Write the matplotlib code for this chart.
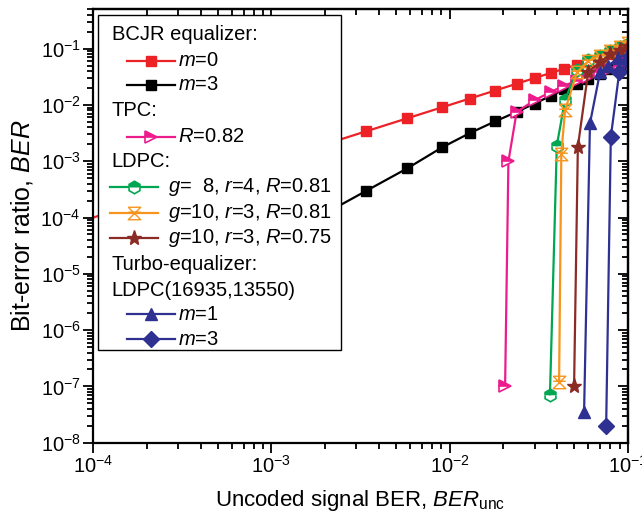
import numpy as np
import matplotlib
matplotlib.use('Agg')
import matplotlib.pyplot as plt
from matplotlib.path import Path
from matplotlib.lines import Line2D
from matplotlib.patches import Rectangle
from matplotlib.ticker import LogLocator, NullFormatter

plt.rcParams['font.family'] = ['Liberation Sans', 'DejaVu Sans']
plt.rcParams['mathtext.fontset'] = 'custom'
plt.rcParams['mathtext.rm'] = 'Liberation Sans'
plt.rcParams['mathtext.it'] = 'Liberation Sans:italic'
plt.rcParams['mathtext.bf'] = 'Liberation Sans:bold'
plt.rcParams['axes.unicode_minus'] = False

# BCJR equalizer, m=0
unc_bcjr0 = [1e-4, 2e-4, 5e-4, 1e-3, 2e-3, 3.4e-3, 5.8e-3, 9.1e-3, 0.013, 0.018,
             0.024, 0.030, 0.037, 0.044, 0.052, 0.060, 0.070, 0.080, 0.090, 0.100]
ber_bcjr0 = [1e-4, 2e-4, 5e-4, 1e-3, 2e-3, 3.4e-3, 5.8e-3, 9.1e-3, 0.013, 0.018,
             0.024, 0.030, 0.037, 0.044, 0.052, 0.060, 0.070, 0.080, 0.092, 0.105]
# BCJR equalizer, m=3
unc_bcjr3 = [4e-4, 1e-3, 2e-3, 3.4e-3, 5.8e-3, 9.1e-3, 0.013, 0.018, 0.024,
             0.030, 0.037, 0.044, 0.052, 0.060, 0.070, 0.080, 0.090, 0.100]
ber_bcjr3 = [7e-6, 3.5e-5, 1.18e-4, 2.97e-4, 7.5e-4, 1.77e-3, 3.16e-3, 5.1e-3, 7.6e-3,
             0.0106, 0.0145, 0.019, 0.024, 0.029, 0.036, 0.043, 0.050, 0.057]
# TPC, R=0.82
unc_tpc = [0.0205, 0.0214, 0.0238, 0.030, 0.037, 0.044, 0.052, 0.060, 0.070, 0.080, 0.090, 0.100]
ber_tpc = [1e-7, 1e-3, 7.5e-3, 0.0121, 0.0170, 0.022, 0.027, 0.032, 0.038, 0.044, 0.050, 0.056]
# LDPC codes
unc_ldpc_a = [0.0366, 0.040, 0.0445, 0.052, 0.060, 0.070, 0.080, 0.090, 0.100]
ber_ldpc_a = [7e-8, 1.9e-3, 0.0124, 0.041, 0.062, 0.075, 0.090, 0.105, 0.120]
unc_ldpc_b = [0.0412, 0.0424, 0.0445, 0.052, 0.060, 0.070, 0.080, 0.090, 0.100]
ber_ldpc_b = [1.2e-7, 1.37e-3, 8.0e-3, 0.0385, 0.060, 0.075, 0.090, 0.105, 0.125]
unc_ldpc_c = [0.050, 0.0525, 0.060, 0.070, 0.080, 0.090, 0.100]
ber_ldpc_c = [1e-7, 1.8e-3, 0.0385, 0.058, 0.080, 0.095, 0.110]
# turbo equalizer, LDPC(16935,13550)
unc_turbo1 = [0.0569, 0.0614, 0.070, 0.078, 0.088, 0.100]
ber_turbo1 = [3.5e-8, 4.7e-3, 0.0385, 0.050, 0.068, 0.080]
unc_turbo3 = [0.0757, 0.0804, 0.0897, 0.100]
ber_turbo3 = [2e-8, 2.7e-3, 0.0385, 0.058]

labels = {
    'bcjr0': '$m$=0',
    'bcjr3': '$m$=3',
    'tpc': '$R$=0.82',
    'ldpc_a': '$g$=  8, $r$=4, $R$=0.81',
    'ldpc_b': '$g$=10, $r$=3, $R$=0.81',
    'ldpc_c': '$g$=10, $r$=3, $R$=0.75',
    'turbo1': '$m$=1',
    'turbo3': '$m$=3',
}

# hourglass with a cross through it
hourglass = Path([(-1, 1), (1, 1), (-1, -1), (1, -1), (-1, 1),
                  (-1, 0.2), (1, 0.2)],
                 [Path.MOVETO, Path.LINETO, Path.LINETO, Path.LINETO, Path.LINETO,
                  Path.MOVETO, Path.LINETO])

styles = {
    'bcjr0': dict(color='#ED2227', marker='s', ms=7.5),
    'bcjr3': dict(color='black', marker='s', ms=7.5),
    'tpc': dict(color='#EC1C8C', marker='>', ms=9, fillstyle='top',
                markerfacecoloralt='white', mew=1.2),
    'ldpc_a': dict(color='#00A651', marker='h', ms=9, fillstyle='top',
                   markerfacecoloralt='white', mew=1.2),
    'ldpc_b': dict(color='#F7941D', marker=hourglass, ms=9, mfc='none', mew=1.0),
    'ldpc_c': dict(color='#8B2B26', marker='*', ms=11),
    'turbo1': dict(color='#2E3192', marker='^', ms=9),
    'turbo3': dict(color='#2E3192', marker='D', ms=8),
}

series = [
    ('bcjr0', unc_bcjr0, ber_bcjr0),
    ('bcjr3', unc_bcjr3, ber_bcjr3),
    ('tpc', unc_tpc, ber_tpc),
    ('ldpc_a', unc_ldpc_a, ber_ldpc_a),
    ('ldpc_b', unc_ldpc_b, ber_ldpc_b),
    ('ldpc_c', unc_ldpc_c, ber_ldpc_c),
    ('turbo1', unc_turbo1, ber_turbo1),
    ('turbo3', unc_turbo3, ber_turbo3),
]

W, H = 642, 521
fig = plt.figure(figsize=(W / 100, H / 100), dpi=100)
ax = fig.add_axes([93.3 / W, 1 - 442.7 / H, (627.7 - 93.3) / W, (442.7 - 9.3) / H])

for key, x, y in series:
    st = dict(styles[key])
    col = st.pop('color')
    kw = dict(color=col, lw=1.6, mec=col, mfc=col)
    kw.update(st)
    if key == 'bcjr0':
        kw['markevery'] = slice(1, None)
    ax.plot(x, y, **kw)

ax.set_xscale('log')
ax.set_yscale('log')
ax.set_xlim(1e-4, 0.1)
ax.set_ylim(1e-8, 0.5)
for axis in (ax.xaxis, ax.yaxis):
    axis.set_major_locator(LogLocator(base=10, numticks=20))
    axis.set_minor_locator(LogLocator(base=10, subs=np.arange(2, 10), numticks=200))
    axis.set_minor_formatter(NullFormatter())
ax.tick_params(which='both', direction='out', width=1.3, labelsize=14.5, pad=2)
ax.tick_params(which='major', length=7)
ax.tick_params(which='minor', length=4)
for sp in ax.spines.values():
    sp.set_linewidth(1.6)

# mirrored ticks on top and right point inward
top = ax.secondary_xaxis('top')
right = ax.secondary_yaxis('right')
for sec, axis in ((top, top.xaxis), (right, right.yaxis)):
    axis.set_major_locator(LogLocator(base=10, numticks=20))
    axis.set_minor_locator(LogLocator(base=10, subs=np.arange(2, 10), numticks=200))
    axis.set_major_formatter(NullFormatter())
    axis.set_minor_formatter(NullFormatter())
    sec.tick_params(which='both', direction='in', width=1.3)
    sec.tick_params(which='major', length=7)
    sec.tick_params(which='minor', length=4)
    for sp in sec.spines.values():
        sp.set_linewidth(1.6)

ax.set_xlabel(r'Uncoded signal BER, $BER_{\rm unc}$', fontsize=16, labelpad=8)
ax.set_ylabel('Bit-error ratio, $BER$', fontsize=18, labelpad=4)

# legend with group headings, laid out in pixels
def fx(px):
    return px / W


def fy(py):
    return 1 - py / H


fig.add_artist(Rectangle((fx(98.3), fy(350)), fx(341) - fx(98.3), fy(15) - fy(350),
                         transform=fig.transFigure, facecolor='white',
                         edgecolor='black', lw=1.0, zorder=5))

rows = [
    ('BCJR equalizer:', None, 35),
    (None, 'bcjr0', 60.7),
    (None, 'bcjr3', 85),
    ('TPC:', None, 110),
    (None, 'tpc', 136.7),
    ('LDPC:', None, 161.7),
    (None, 'ldpc_a', 187.3),
    (None, 'ldpc_b', 212.7),
    (None, 'ldpc_c', 238.3),
    ('Turbo-equalizer:', None, 265),
    ('LDPC(16935,13550)', None, 290),
    (None, 'turbo1', 314),
    (None, 'turbo3', 339.3),
]
for head, key, py in rows:
    if head is not None:
        fig.text(fx(111.5), fy(py), head, fontsize=14.5, va='center', ha='left', zorder=7)
        continue
    if key.startswith('ldpc'):
        x0, x1, tx = 110, 158, 168
    else:
        x0, x1, tx = 127, 175, 178
    st = dict(styles[key])
    col = st.pop('color')
    kw = dict(color=col, lw=1.6, mec=col, mfc=col)
    kw.update(st)
    fig.add_artist(Line2D([fx(x0), fx(x1)], [fy(py), fy(py)], transform=fig.transFigure,
                          color=col, lw=1.6, zorder=6))
    kw.pop('lw')
    fig.add_artist(Line2D([fx((x0 + x1) / 2)], [fy(py)], transform=fig.transFigure,
                          ls='none', zorder=6, **kw))
    fig.text(fx(tx), fy(py), labels[key], fontsize=14.5, va='center', ha='left', zorder=7)

fig.savefig('out.png', dpi=100)
